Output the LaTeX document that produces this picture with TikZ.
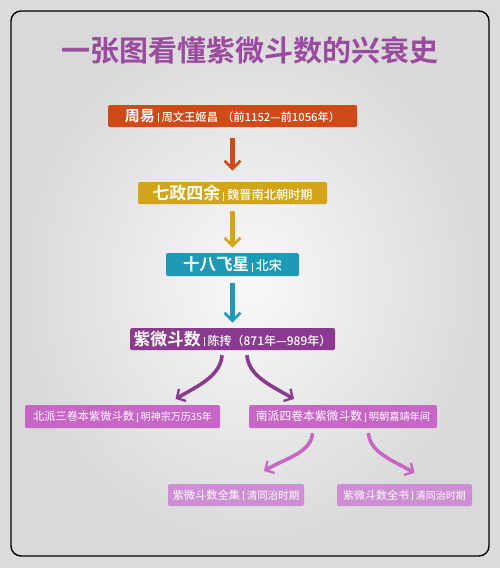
\documentclass[tikz,border=0pt]{standalone}
\usepackage{fontspec}
\usetikzlibrary{arrows.meta}
\newfontfamily\cjk[BoldFont={Noto Sans CJK SC Bold}]{Noto Sans CJK SC}
\newfontfamily\cjkm{Noto Sans CJK SC Medium}
\definecolor{titlec}{HTML}{9A4B9F}
\definecolor{c1}{HTML}{CF4A17}
\definecolor{c2}{HTML}{D4A418}
\definecolor{c3}{HTML}{1E99B6}
\definecolor{c4}{HTML}{8C3A90}
\definecolor{c5}{HTML}{C866C8}
\definecolor{c6}{HTML}{CE8ED4}
\newcommand{\vsep}{\hspace{3pt}\rule[-1pt]{0.8pt}{9pt}\hspace{3pt}}
\newcommand{\fs}[1]{\fontsize{#1}{#1}\selectfont}
\tikzset{
  box/.style={minimum height=22pt, inner sep=0pt, text=white, font=\cjk, rounded corners=1.5pt},
  flow/.style={line width=4.5pt, -{Circle[length=3.6pt,line width=0pt,sep=3pt] Straight Barb[length=8pt,width=16pt,line width=2.6pt,sep=-2.8pt]}},
  curv/.style={line width=3.6pt, -{Circle[length=3pt,line width=0pt,sep=2.5pt] Straight Barb[length=6.5pt,width=14pt,line width=2.3pt,sep=-2.3pt]}},
}
\begin{document}
\begin{tikzpicture}[x=1pt,y=-1pt]
\useasboundingbox (0,0) rectangle (500,568);
\fill[gray!28] (0,0) rectangle (500,568);
\shade[inner color=gray!5, outer color=gray!30, rounded corners=10pt] (11,11) rectangle (489,556);
\draw[line width=1.4pt, rounded corners=10pt] (11,11) rectangle (489,556);
\node[font=\cjk\bfseries\fs{29}, text=titlec] (title) at (250,50) {一张图看懂紫微斗数的兴衰史};
\node[box, fill=c1, minimum width=249pt] (b1) at (232.5,116)
  {{\bfseries\fs{15}周易}\vsep{\cjkm\fs{11.3}周文王姬昌\hspace{4pt}（前1152—前1056年）}};
\node[box, fill=c2, minimum width=189pt] (b2) at (232.5,193)
  {{\bfseries\fs{17}七政四余}\vsep{\cjkm\fs{12.2}魏晋南北朝时期}};
\node[box, fill=c3, minimum width=133pt, minimum height=23pt] (b3) at (232.5,264.5)
  {{\bfseries\fs{16.5}十八飞星}\vsep{\cjkm\fs{13}北宋}};
\node[box, fill=c4, minimum width=205pt] (b4) at (232.5,339)
  {{\bfseries\fs{16.8}紫微斗数}\vsep{\cjkm\fs{12}陈抟（871年—989年）}};
\node[box, fill=c5, minimum width=195pt, minimum height=23pt] (b5) at (122.5,416.5)
  {{\fs{11.2}北派三卷本紫微斗数}\vsep{\fs{10}明神宗万历35年}};
\node[box, fill=c5, minimum width=188pt, minimum height=23pt] (b6) at (343,416.5)
  {{\fs{11.8}南派四卷本紫微斗数}\vsep{\fs{10.2}明朝嘉靖年间}};
\node[box, fill=c6, minimum width=136pt] (b7) at (236,495)
  {{\fs{11.2}紫微斗数全集}\vsep{\fs{10.5}清同治时期}};
\node[box, fill=c6, minimum width=135pt] (b8) at (404.5,495)
  {{\fs{11}紫微斗数全书}\vsep{\fs{10}清同治时期}};
\draw[flow, c1, shorten <=11pt, shorten >=14pt] (b1.south) -- (b2.north);
\draw[flow, c2, shorten <=7pt, shorten >=8pt] (b2.south) -- (b3.north);
\draw[flow, c3, shorten <=7pt, shorten >=8pt] (b3.south) -- (b4.north);
\draw[curv, c4, shorten <=5pt] ([xshift=-10pt]b4.south) to[out=-95,in=30] ([xshift=55pt,yshift=7pt]b5.north);
\draw[curv, c4, shorten <=5pt] ([xshift=14pt]b4.south) to[out=-85,in=150] ([xshift=-51pt,yshift=7pt]b6.north);
\draw[curv, c5, shorten <=5pt] ([xshift=-30pt]b6.south) to[out=-95,in=30] ([xshift=30pt,yshift=14pt]b7.north);
\draw[curv, c5, shorten <=5pt] ([xshift=25pt]b6.south) to[out=-85,in=150] ([xshift=8pt,yshift=12pt]b8.north);
\end{tikzpicture}
\end{document}
